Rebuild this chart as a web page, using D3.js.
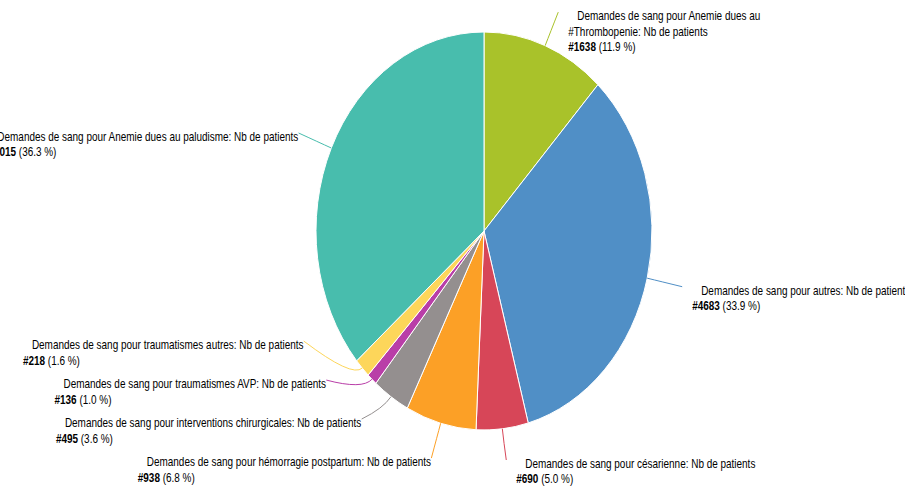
<!DOCTYPE html>
<html>
<head>
<meta charset="utf-8">
<script src="https://cdn.jsdelivr.net/npm/d3@7"></script>
<style>
  body { margin: 0; background: #fff; }
  svg { display: block; }
  .lbl { font-family: "Liberation Sans", Arial, sans-serif; font-size: 12px; fill: #000; }
</style>
</head>
<body>
<svg id="chart" width="905" height="486"></svg>
<script>
// Blood requests by cause, number of patients
const categories = [
  "Demandes de sang pour Anemie dues au\n#Thrombopenie: Nb de patients",
  "Demandes de sang pour autres: Nb de patients",
  "Demandes de sang pour césarienne: Nb de patients",
  "Demandes de sang pour hémorragie postpartum: Nb de patients",
  "Demandes de sang pour interventions chirurgicales: Nb de patients",
  "Demandes de sang pour traumatismes AVP: Nb de patients",
  "Demandes de sang pour traumatismes autres: Nb de patients",
  "Demandes de sang pour Anemie dues au paludisme: Nb de patients"
];
const values = [1638, 4683, 690, 938, 495, 136, 218, 5015];
const colors = ["#a9c22a", "#508fc6", "#d74658", "#fca026", "#948f8f", "#b93ea8", "#fdd65a", "#48bdad"];

const W = 905, H = 486;
const cx = 484, cy = 231;     // pie centre
const rx = 168, ry = 199;     // the pie is drawn as an ellipse
const labelGap = 36;          // distance from the rim to the label anchor
const minSpacing = 39;        // vertical room needed by a two-line label
const bottomLimit = H - 26;   // lowest anchor that keeps a two-line label inside
const lineH = 15.5;
const narrow = 0.83;          // condensed lettering
const indent = 9;             // first line of each label is indented

const svg = d3.select("#chart");
const data = categories.map((c, i) => ({ name: c, value: values[i], color: colors[i] }));
const total = d3.sum(values);

const pie = d3.pie().sort(null).value(d => d.value);
const arcs = pie(data);
const arc = d3.arc().innerRadius(0).outerRadius(ry);

// slices, squashed horizontally into the ellipse
svg.append("g")
  .attr("transform", `translate(${cx},${cy}) scale(${rx / ry},1)`)
  .selectAll("path")
  .data(arcs)
  .join("path")
  .attr("d", arc)
  .attr("fill", d => d.data.color)
  .attr("stroke", "#fff")
  .attr("stroke-width", 1)
  .attr("vector-effect", "non-scaling-stroke");

// label anchors on a larger ellipse around the pie
const Lrx = rx + labelGap, Lry = ry + labelGap;
const labels = arcs.map(a => {
  const m = (a.startAngle + a.endAngle) / 2;
  const s = Math.sin(m), c = Math.cos(m);
  return {
    a, m,
    side: s >= 0 ? 1 : -1,
    sx: cx + rx * s, sy: cy - ry * c,
    qx: cx + (rx + 14) * s, qy: cy - (ry + 14) * c,
    x: cx + Lrx * s, y: Math.min(bottomLimit, cy - Lry * c)
  };
});

// push overlapping labels apart on each side, then put them back on the ellipse
[1, -1].forEach(side => {
  const group = labels.filter(l => l.side === side).sort((p, q) => q.y - p.y);
  for (let i = 1; i < group.length; i++) {
    if (group[i - 1].y - group[i].y < minSpacing) {
      group[i].y = group[i - 1].y - minSpacing;
      const t = Math.max(-1, Math.min(1, (group[i].y - cy) / Lry));
      group[i].x = cx + side * Lrx * Math.sqrt(1 - t * t);
    }
  }
});

const fmt = d3.format(".1f");
const lg = svg.append("g");

labels.forEach(l => {
  const d = l.a.data;
  lg.append("path")
    .attr("d", `M${l.sx},${l.sy}Q${l.qx},${l.qy} ${l.x},${l.y}`)
    .attr("fill", "none")
    .attr("stroke", d.color)
    .attr("stroke-width", 1);

  const nameLines = d.name.split("\n");
  const g = lg.append("g");
  const t = g.append("text").attr("class", "lbl");
  let yy = l.y + 8;
  const first = t.append("tspan").attr("x", indent / narrow).attr("y", yy).text(nameLines[0]);
  const w1 = first.node().getComputedTextLength() * narrow;
  nameLines.slice(1).forEach(line => {
    yy += lineH;
    t.append("tspan").attr("x", 0).attr("y", yy).text(line);
  });
  yy += lineH;
  t.append("tspan").attr("x", 0).attr("y", yy).attr("font-weight", "bold").text("#" + d.value);
  t.append("tspan").text(` (${fmt(d.value / total * 100)} %)`);

  const blockX = l.side > 0 ? l.x + 10 : l.x - w1 - indent;
  g.attr("transform", `translate(${blockX},0) scale(${narrow},1)`);
});
</script>
</body>
</html>
